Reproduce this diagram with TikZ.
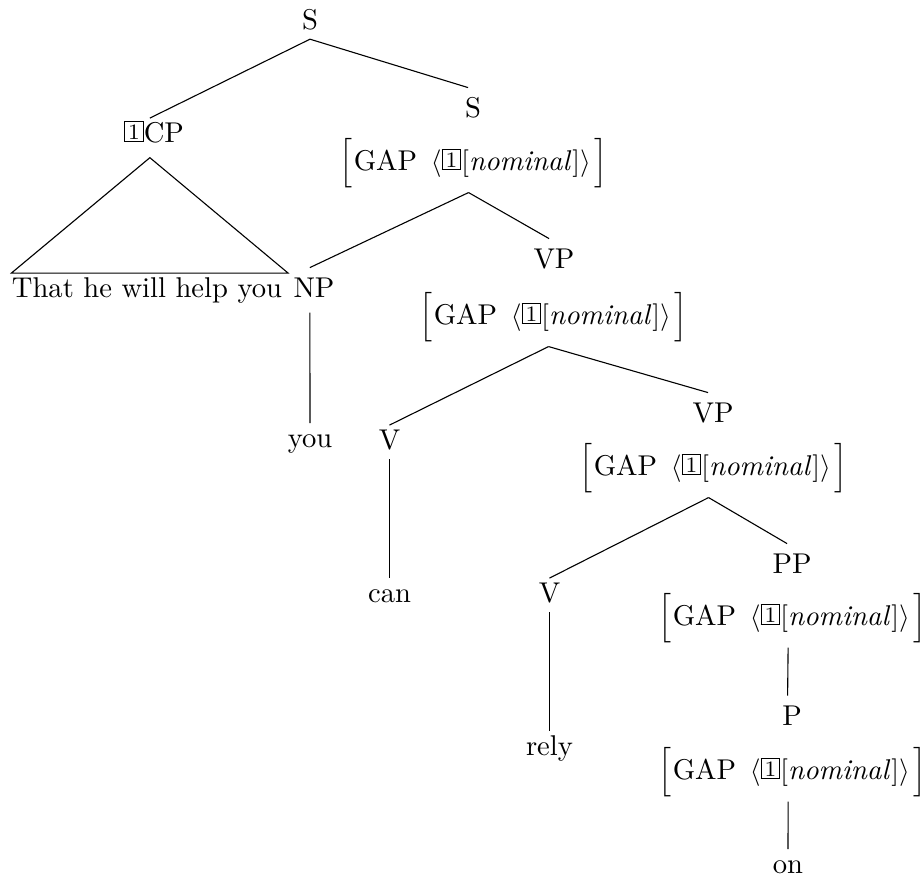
\documentclass[tikz,border=0pt]{standalone}
\usepackage{amsmath}
\newcommand{\tagnum}[1]{{\setlength{\fboxsep}{0.6pt}\raisebox{1.0pt}{\fbox{\makebox[5.2pt]{\rule{0pt}{5.8pt}\footnotesize #1}}}}}
\newcommand{\gapavm}{$\Big[\hspace{0.3pt}\text{GAP}\hspace{5pt}\langle\tagnum{1}[\textit{nominal\/}\hspace{0.4pt}]\rangle\hspace{1.2pt}\Big]$}
\begin{document}
\begin{tikzpicture}[x=0.36364pt,y=-0.36364pt,
  lab/.style={anchor=base, inner xsep=0pt, inner ysep=1.5pt, text height=7pt, text depth=2pt, font=\fontsize{10.4pt}{12pt}\selectfont},
  labf/.style={lab, inner ysep=3.5pt},
  avm/.style={anchor=base, inner xsep=0pt, inner ysep=1.5pt, font=\fontsize{10.4pt}{12pt}\selectfont},
  edge/.style={line width=0.4pt}]
\useasboundingbox (0,0) rectangle (923,877);
% nodes
\node[lab]  (s1)   at (310,29)  {S};
\node[lab]  (cp)   at (154,142) {\tagnum{1}CP};
\node[labf] (s2)   at (473,117) {S};
\node[avm]  (s2f)  at (473.5,170) {\gapavm};
\node[lab]  (that) at (147,297) {That he will help you};
\node[labf] (np)   at (314,297) {NP};
\node[labf] (vp1)  at (554,268) {VP};
\node[avm]  (vp1f) at (553.5,324) {\gapavm};
\node[lab]  (you)  at (310,447) {you};
\node[lab]  (v1)   at (389.5,449) {V};
\node[labf] (vp2)  at (713,422) {VP};
\node[avm]  (vp2f) at (713.5,475) {\gapavm};
\node[lab]  (can)  at (389.5,602) {can};
\node[lab]  (v2)   at (549.5,602) {V};
\node[labf] (pp)   at (792,573) {PP};
\node[avm]  (ppf)  at (792.5,625) {\gapavm};
\node[labf] (p)    at (792,725) {P};
\node[avm]  (pf)   at (792.5,779) {\gapavm};
\node[lab]  (rely) at (549.5,755) {rely};
\node[lab]  (on)   at (788,873) {on};
% edges
\draw[edge] (s1.south) -- ([xshift=-1.5pt]cp.north);
\draw[edge] (s1.south) -- ([xshift=-1.8pt]s2.north);
\draw[edge] ([xshift=-1.5pt,yshift=-2pt]cp.south) -- (that.north west) -- ([xshift=2pt]that.north east) -- cycle;
\draw[edge] ([xshift=-1.8pt]s2f.south) -- ([xshift=-1.5pt]np.north);
\draw[edge] ([xshift=-1.8pt]s2f.south) -- ([xshift=-1.8pt]vp1.north);
\draw[edge] ([xshift=-1.5pt]np.south) -- (you.north);
\draw[edge] ([xshift=-1.8pt]vp1f.south) -- (v1.north);
\draw[edge] ([xshift=-1.8pt]vp1f.south) -- ([xshift=-1.8pt]vp2.north);
\draw[edge] (v1.south) -- (can.north);
\draw[edge] ([xshift=-1.8pt]vp2f.south) -- (v2.north);
\draw[edge] ([xshift=-1.8pt]vp2f.south) -- ([xshift=-1.8pt]pp.north);
\draw[edge] (v2.south) -- (rely.north);
\draw[edge] ([xshift=-1.6pt]ppf.south) -- ([xshift=-1.6pt]p.north);
\draw[edge] ([xshift=-1.6pt]pf.south) -- (on.north);
\end{tikzpicture}
\end{document}
